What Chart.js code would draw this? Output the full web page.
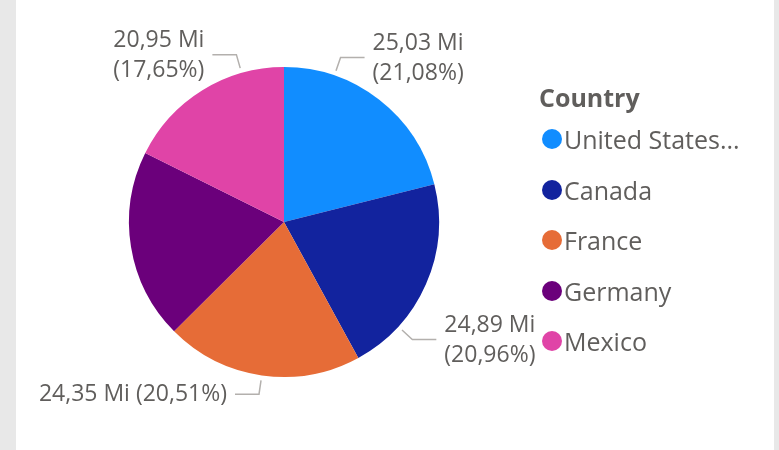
<!DOCTYPE html>
<html>
<head>
<meta charset="utf-8">
<script src="https://cdn.jsdelivr.net/npm/chart.js@4/dist/chart.umd.min.js"></script>
<style>
    html, body { margin: 0; padding: 0; }
    body { width: 779px; height: 450px; background: #e8e8e8; position: relative; overflow: hidden; font-family: "Segoe UI", "Open Sans", sans-serif; }
    #card { position: absolute; left: 16px; top: 0; width: 758px; height: 450px; background: #fff; }
    #pieChart { position: absolute; left: 0; top: 0; }
    #legend { position: absolute; left: 523px; top: 81px; color: #605e5c; }
    #legend .title { height: 33px; line-height: 33px; font-weight: 700; font-size: 25px; }
    #legend ul { list-style: none; margin: 0; padding: 0; }
    #legend li { display: flex; align-items: center; height: 50.5px; font-size: 25px; white-space: nowrap; }
    #legend .dot { width: 20px; height: 20px; border-radius: 50%; margin-left: 3px; margin-right: 2px; flex: none; }
</style>
</head>
<body>
<div id="card">
    <canvas id="pieChart" width="758" height="450"></canvas>
    <div id="legend"></div>
</div>
<script>
// 値は百万単位 (Mi)
const countries = ['United States of America', 'Canada', 'France', 'Germany', 'Mexico'];
const sales = [25.03, 24.89, 24.35, 23.52, 20.954];
const colors = ['#118DFF', '#12239E', '#E66C37', '#6B007B', '#E044A7'];
const legendTitle = 'Country';

const fmt = v => v.toFixed(2).replace('.', ',');

// 凡例の長い名前を切り詰める
function truncate(ctx, text, maxW) {
    ctx.save();
    ctx.font = '25px "Segoe UI", "Open Sans", sans-serif';
    let t = text;
    if (ctx.measureText(t).width > maxW) {
        while (t.length > 1 && ctx.measureText(t.trimEnd() + '...').width > maxW) {
            t = t.slice(0, -1);
        }
        t = t.trimEnd() + '...';
    }
    ctx.restore();
    return t;
}

const htmlLegend = {
    id: 'htmlLegend',
    afterUpdate(chart) {
        const box = document.getElementById('legend');
        box.innerHTML = '';
        const title = document.createElement('div');
        title.className = 'title';
        title.textContent = legendTitle;
        box.appendChild(title);
        const ul = document.createElement('ul');
        chart.data.labels.forEach((label, i) => {
            const li = document.createElement('li');
            const dot = document.createElement('span');
            dot.className = 'dot';
            dot.style.background = chart.data.datasets[0].backgroundColor[i];
            const txt = document.createElement('span');
            txt.textContent = truncate(chart.ctx, label, 182);
            li.appendChild(dot);
            li.appendChild(txt);
            ul.appendChild(li);
        });
        box.appendChild(ul);
    }
};

// 引き出し線付きのデータラベル
const sliceLabels = {
    id: 'sliceLabels',
    afterDatasetsDraw(chart, args, opts) {
        const ctx = chart.ctx;
        const meta = chart.getDatasetMeta(0);
        const data = chart.data.datasets[0].data;
        const total = data.reduce((a, b) => a + b, 0);
        meta.data.forEach((arc, i) => {
            const lines = opts.lines[i];
            if (!lines) return;
            const p = arc.getProps(['x', 'y', 'startAngle', 'endAngle', 'outerRadius'], true);
            const a = p.startAngle + (p.endAngle - p.startAngle) * opts.anchor[i];
            const cos = Math.cos(a), sin = Math.sin(a);
            const r0 = p.outerRadius + 5, r1 = p.outerRadius + 19;
            const x0 = p.x + cos * r0, y0 = p.y + sin * r0;
            const x1 = p.x + cos * r1, y1 = p.y + sin * r1;
            const dir = cos >= 0 ? 1 : -1;
            const x2 = x1 + dir * 24;

            ctx.save();
            ctx.strokeStyle = '#b3b0ad';
            ctx.lineWidth = 1.5;
            ctx.beginPath();
            ctx.moveTo(x0, y0);
            ctx.lineTo(x1, y1);
            ctx.lineTo(x2, y1);
            ctx.stroke();

            ctx.fillStyle = '#605e5c';
            ctx.font = '23px "Segoe UI", "Open Sans", sans-serif';
            ctx.textAlign = dir > 0 ? 'left' : 'right';
            ctx.textBaseline = 'middle';
            const tx = x2 + dir * 8;
            const v = fmt(data[i]) + ' Mi';
            const pct = '(' + fmt(data[i] / total * 100) + '%)';
            if (lines === 1) {
                ctx.fillText(v + ' ' + pct, tx, y1);
            } else {
                ctx.fillText(v, tx, y1 - 14);
                ctx.fillText(pct, tx, y1 + 16);
            }
            ctx.restore();
        });
    }
};

new Chart(document.getElementById('pieChart'), {
    type: 'pie',
    data: {
        labels: countries,
        datasets: [{
            data: sales,
            backgroundColor: colors,
            borderWidth: 0,
            hoverOffset: 0
        }]
    },
    options: {
        responsive: false,
        animation: false,
        layout: { padding: { left: 113, right: 335, top: 67, bottom: 73 } },
        plugins: {
            legend: { display: false },
            tooltip: { enabled: false },
            sliceLabels: {
                lines: [2, 2, 1, 0, 2],
                anchor: [0.25, 0.75, 0.5, 0.5, 0.75]
            }
        }
    },
    plugins: [htmlLegend, sliceLabels]
});
</script>
</body>
</html>
